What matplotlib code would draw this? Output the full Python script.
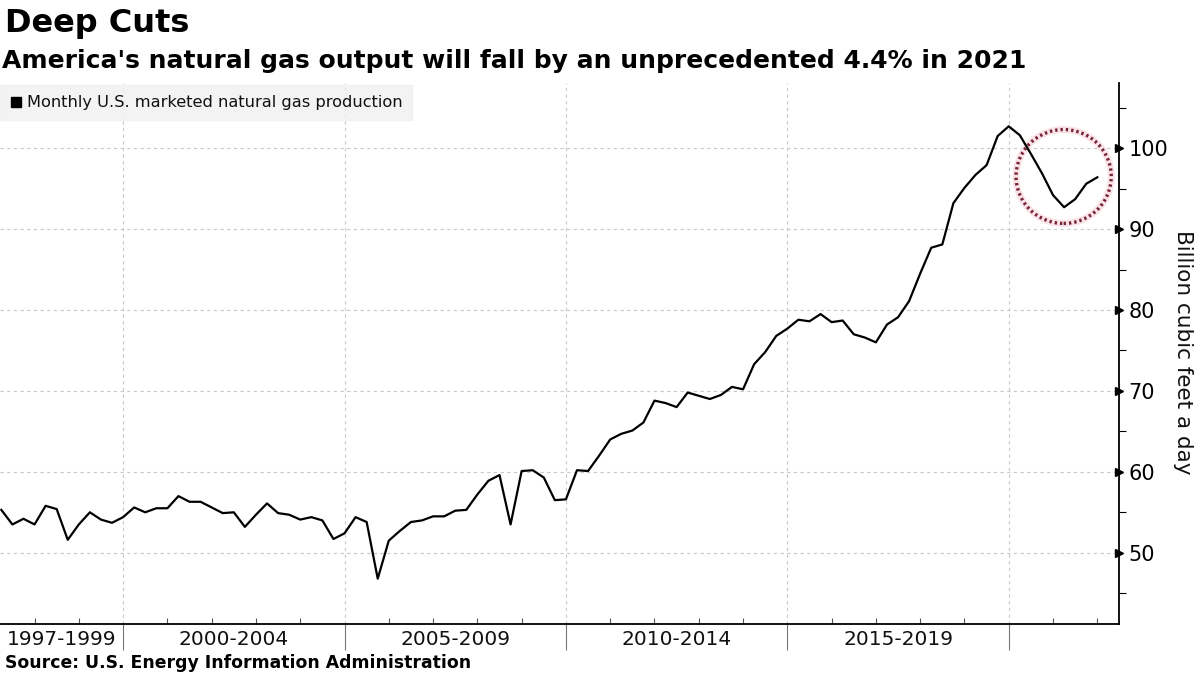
import numpy as np
import pandas as pd
import matplotlib
matplotlib.use("Agg")
import matplotlib.pyplot as plt
import matplotlib.transforms as mtransforms
from matplotlib.patches import Ellipse, Rectangle

# Quarterly readings of U.S. marketed gas production (bcf/d)
quarters = pd.period_range("1997Q2", periods=100, freq="Q")
production = [
    55.3, 53.5, 54.2, 53.5, 55.8, 55.4, 51.6, 53.5, 55.0, 54.1,
    53.7, 54.4, 55.6, 55.0, 55.5, 55.5, 57.0, 56.3, 56.3, 55.6,
    54.9, 55.0, 53.2, 54.7, 56.1, 54.9, 54.7, 54.1, 54.4, 54.0,
    51.7, 52.4, 54.4, 53.8, 46.8, 51.5, 52.7, 53.8, 54.0, 54.5,
    54.5, 55.2, 55.3, 57.2, 58.9, 59.6, 53.5, 60.1, 60.2, 59.3,
    56.5, 56.6, 60.2, 60.1, 62.0, 64.0, 64.7, 65.1, 66.1, 68.8,
    68.5, 68.0, 69.8, 69.4, 69.0, 69.5, 70.5, 70.2, 73.3, 74.8,
    76.8, 77.7, 78.8, 78.6, 79.5, 78.5, 78.7, 77.0, 76.6, 76.0,
    78.2, 79.1, 81.1, 84.5, 87.7, 88.1, 93.2, 95.1, 96.7, 97.9,
    101.5, 102.7, 101.6, 99.3, 96.9, 94.2, 92.7, 93.7, 95.6, 96.4,
]
period_breaks = [2000, 2005, 2010, 2015, 2020]
period_labels = ["1997-1999", "2000-2004", "2005-2009", "2010-2014", "2015-2019"]
y_ticks = [50, 60, 70, 80, 90, 100]

title = "Deep Cuts"
subtitle = "America's natural gas output will fall by an unprecedented 4.4% in 2021"
legend_label = "Monthly U.S. marketed natural gas production"
y_label = "Billion cubic feet a day"
source = "Source: U.S. Energy Information Administration"

x = quarters.year + (quarters.quarter - 1) / 4.0
xmin, xmax = 1997.22, 2022.49

fig = plt.figure(figsize=(12, 6.75), dpi=100)
ax = fig.add_axes([0.0, 0.0756, 0.9325, 0.802])

ax.plot(x, production, color="black", lw=1.6, zorder=3)
ax.set_xlim(xmin, xmax)
ax.set_ylim(41.2, 108.1)

# spines
for side in ["left", "top"]:
    ax.spines[side].set_visible(False)
ax.spines["right"].set_linewidth(1.3)
ax.spines["bottom"].set_linewidth(1.3)

# grid
for yv in y_ticks:
    ax.axhline(yv, color="#c8c8c8", lw=0.8, ls=(0, (3, 3)), zorder=1)
for xv in period_breaks:
    ax.axvline(xv, color="#c8c8c8", lw=0.8, ls=(0, (3, 3)), zorder=1)

# x axis: separators at period breaks, small yearly ticks
ax.set_xticks(period_breaks)
ax.set_xticklabels([])
ax.tick_params(axis="x", which="major", direction="out", length=19,
               color="#777777", width=0.8)
ax.set_xticks(np.arange(1998, 2023), minor=True)
ax.tick_params(axis="x", which="minor", direction="in", length=4,
               color="#555555", width=0.8)
trans_x = mtransforms.blended_transform_factory(ax.transData, ax.transAxes)
edges = [xmin] + period_breaks
for i, lab in enumerate(period_labels):
    cx = (edges[i] + edges[i + 1]) / 2
    ax.text(cx, -0.012, lab, transform=trans_x, ha="center", va="top",
            fontsize=14.5, color="#111111")

# y axis on the right
ax.yaxis.tick_right()
ax.set_yticks(y_ticks)
ax.set_yticklabels([str(v) for v in y_ticks], fontsize=15)
ax.tick_params(axis="y", which="major", length=0, pad=7)
ax.set_yticks(np.arange(45, 106, 10), minor=True)
ax.tick_params(axis="y", which="minor", direction="out", length=5, width=0.8)
trans_y = mtransforms.blended_transform_factory(ax.transAxes, ax.transData)
ax.plot([1.0] * len(y_ticks), y_ticks, ls="none", marker=">", ms=6,
        color="black", transform=trans_y, clip_on=False)
fig.text(1183 / 1200, 0.478, y_label, rotation=-90, fontsize=15.5,
         ha="center", va="center", color="#111111")

# highlight circle around the forecast
circ_glow = Ellipse((2021.24, 96.5), 2.15, 11.6, fill=False, ec="#fae3e7",
                    lw=5, zorder=2)
circ = Ellipse((2021.24, 96.5), 2.15, 11.6, fill=False, ec="#74233a",
               lw=2.4, ls=(0, (0.7, 0.9)), zorder=4)
ax.add_patch(circ_glow)
ax.add_patch(circ)

# legend box
fig.patches.append(Rectangle((0.0, 0.822), 412 / 1200, 0.052,
                             transform=fig.transFigure, color="#f1f1f1",
                             alpha=0.85, zorder=5))
fig.patches.append(Rectangle((11 / 1200, 0.841), 10 / 1200, 10 / 675,
                             transform=fig.transFigure, color="black",
                             zorder=6))
fig.text(27 / 1200, 0.848, legend_label, fontsize=11.7, va="center",
         ha="left", color="#111111", zorder=7)

# titles and source
fig.text(0.004, 0.965, title, fontsize=23, fontweight="bold", va="center")
fig.text(0.002, 0.910, subtitle, fontsize=18, fontweight="bold",
         va="center")
fig.text(0.004, 0.018, source, fontsize=12.4, fontweight="bold",
         va="center")

fig.savefig("out.png", dpi=100)
